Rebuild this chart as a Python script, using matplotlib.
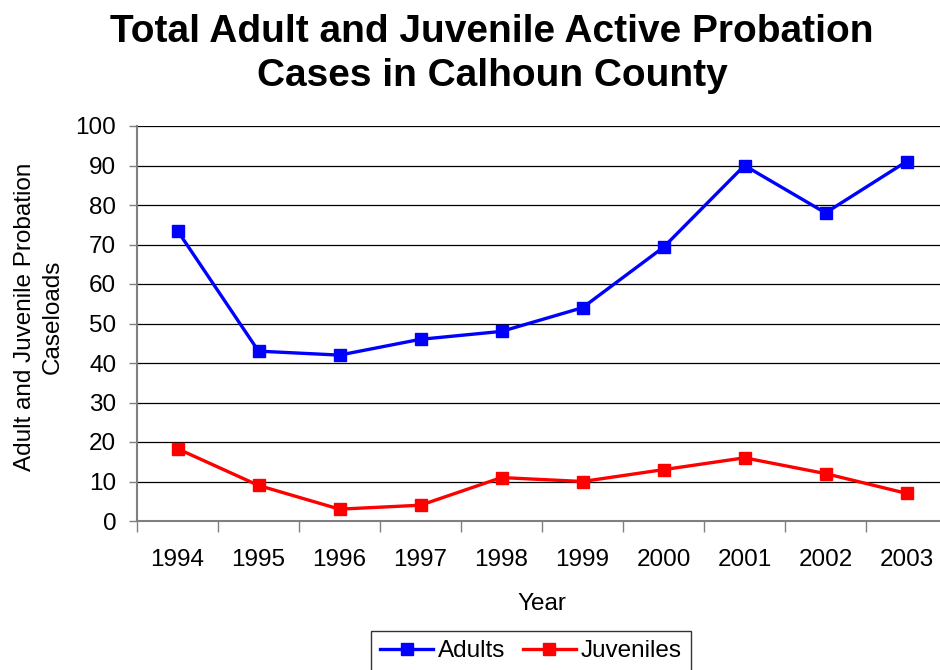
import matplotlib.pyplot as plt

years = ["1994", "1995", "1996", "1997", "1998", "1999", "2000", "2001", "2002", "2003"]
adults = [73.5, 43, 42, 46, 48, 54, 69.3, 90, 78, 91]
juveniles = [18.3, 9, 3, 4, 11, 10, 13, 16, 12, 7]

plt.rcParams['font.family'] = ['Liberation Sans', 'DejaVu Sans']

fig = plt.figure(figsize=(9.4, 6.7), dpi=100)
ax = fig.add_axes([137 / 940, 1 - 521 / 670, 810 / 940, 395 / 670])

x = list(range(len(years)))
ax.plot(x, adults, color='#0000ff', lw=2.4, marker='s', ms=8.5, label='Adults')
ax.plot(x, juveniles, color='#ff0000', lw=2.4, marker='s', ms=8.5, label='Juveniles')

ax.set_xlim(-0.5, len(years) - 0.5)
ax.set_ylim(0, 100)
ax.set_yticks(range(0, 101, 10))
ax.yaxis.grid(True, color='black', lw=0.9)
ax.set_axisbelow(True)

# category labels in the middle, tick marks on the boundaries
ax.set_xticks(x)
ax.set_xticklabels(years)
ax.tick_params(axis='x', which='major', length=0, pad=20, labelsize=17.5)
ax.set_xticks([i + 0.5 for i in range(-1, len(years))], minor=True)
ax.tick_params(axis='x', which='minor', length=8, width=1, color='#808080')
ax.tick_params(axis='y', length=6, width=1, color='#808080', labelsize=17.5, pad=9)

for side in ['top', 'right']:
    ax.spines[side].set_visible(False)
for side in ['left', 'bottom']:
    ax.spines[side].set_color('#808080')
    ax.spines[side].set_linewidth(1.5)

ax.set_xlabel("Year", fontsize=17.5, labelpad=16)
fig.text(39 / 940, 1 - 317 / 670, "Adult and Juvenile Probation\nCaseloads", rotation=90,
         ha='center', va='center', fontsize=17.5, linespacing=1.3)

fig.text(492 / 940, 1 - 54 / 670, "Total Adult and Juvenile Active Probation\nCases in Calhoun County",
         ha='center', va='center', fontsize=28, fontweight='bold', linespacing=1.3)

leg = fig.legend(loc='center', bbox_to_anchor=(531 / 940, 1 - 651 / 670), ncol=2, fontsize=17.5,
                 frameon=True, fancybox=False, edgecolor='black', handlelength=2.2,
                 columnspacing=0.7, handletextpad=0.2, borderpad=0.35)
leg.get_frame().set_linewidth(1)

fig.savefig("out.png", dpi=100)
